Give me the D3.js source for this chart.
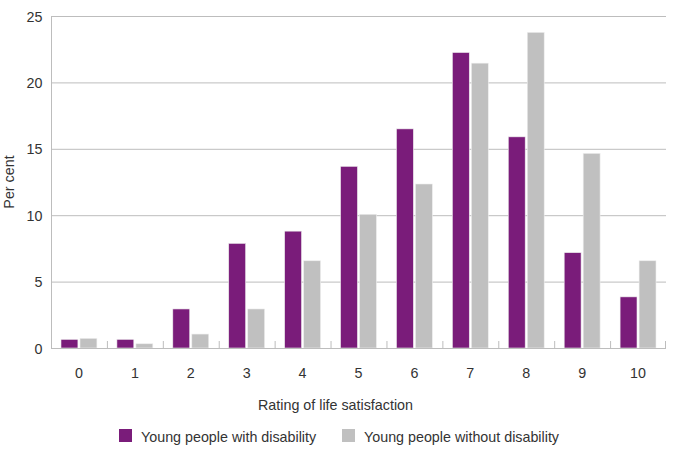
<!DOCTYPE html>
<html><head><meta charset="utf-8">
<script src="https://cdn.jsdelivr.net/npm/d3@7"></script>
<style>body{margin:0;background:#fff}svg{display:block}text{font-family:"Liberation Sans",Arial,sans-serif;fill:#333}</style>
</head><body><svg id="c" width="675" height="458"></svg>
<script>
const categories = ["0","1","2","3","4","5","6","7","8","9","10"];
const withDisability = [0.65,0.65,2.94,7.88,8.8,13.68,16.5,22.25,15.9,7.18,3.85];
const withoutDisability = [0.73,0.32,1.05,2.94,6.57,10.07,12.35,21.45,23.77,14.66,6.57];
const seriesNames = ["Young people with disability","Young people without disability"];
const colors = ["#7a1c7a","#c0c0c0"];
const yTicks = [0,5,10,15,20,25];

const FS = "14.3px";
const svg = d3.select("#c");
const L=51,R=666,T=16,B=348;
const x = d3.scaleBand().domain(categories).range([L,R]);
const y = d3.scaleLinear().domain([0,25]).range([B,T]);
const inner = d3.scaleBand().domain([0,1]).range([10, x.bandwidth()-10]).paddingInner(0.11);

// gridlines
svg.append("g").selectAll("line").data(yTicks.filter(d=>d>0)).join("line")
  .attr("x1",L).attr("x2",R).attr("y1",d=>y(d)+0.5).attr("y2",d=>y(d)+0.5)
  .attr("stroke","#bdbdbd").attr("stroke-width",1);

// y axis
const ya = svg.append("g").attr("transform",`translate(${L+0.5},0)`)
  .call(d3.axisLeft(y).tickValues(yTicks).tickSize(0).tickPadding(9));
ya.select(".domain").attr("stroke","#bdbdbd").attr("d",`M0,${T}V${B+1}`);
ya.selectAll("text").style("font-size",FS).attr("fill","#333").attr("dy","0.35em");

// bars
const series = [withDisability, withoutDisability];
series.forEach((vals,si)=>{
  svg.append("g").selectAll("rect").data(vals).join("rect")
    .attr("x",(d,i)=>x(categories[i])+inner(si))
    .attr("width",inner.bandwidth())
    .attr("y",d=>y(d)).attr("height",d=>B-y(d))
    .attr("fill",colors[si]).attr("stroke","#eee").attr("stroke-width",0.6);
});

// x axis
const xa = svg.append("g").attr("transform",`translate(0,${B+0.5})`)
  .call(d3.axisBottom(x).tickSize(0).tickPadding(19));
xa.select(".domain").attr("stroke","#bdbdbd").attr("d",`M${L},0H${R}`);
xa.selectAll("text").style("font-size",FS).attr("fill","#333");
// tick marks between categories (pointing up)
svg.append("g").selectAll("line").data(categories.slice(1).concat(["end"])).join("line")
  .attr("x1",d=>d==="end"?R-0.5:x(d)+0.5).attr("x2",d=>d==="end"?R-0.5:x(d)+0.5)
  .attr("y1",B-7).attr("y2",B+1).attr("stroke","#bdbdbd");

// axis titles
svg.append("text").attr("transform",`translate(14,${(T+B)/2}) rotate(-90)`)
  .attr("text-anchor","middle").style("font-size",FS).text("Per cent");
svg.append("text").attr("x",335.5).attr("y",410).attr("text-anchor","middle")
  .style("font-size",FS).text("Rating of life satisfaction");

// legend
const leg = [{x:119,t:seriesNames[0],c:colors[0]},{x:342,t:seriesNames[1],c:colors[1]}];
const lg = svg.append("g").selectAll("g").data(leg).join("g");
lg.append("rect").attr("x",d=>d.x).attr("y",429).attr("width",13).attr("height",13).attr("fill",d=>d.c);
lg.append("text").attr("x",d=>d.x+22).attr("y",441.5).style("font-size",FS).text(d=>d.t);
</script></body></html>
